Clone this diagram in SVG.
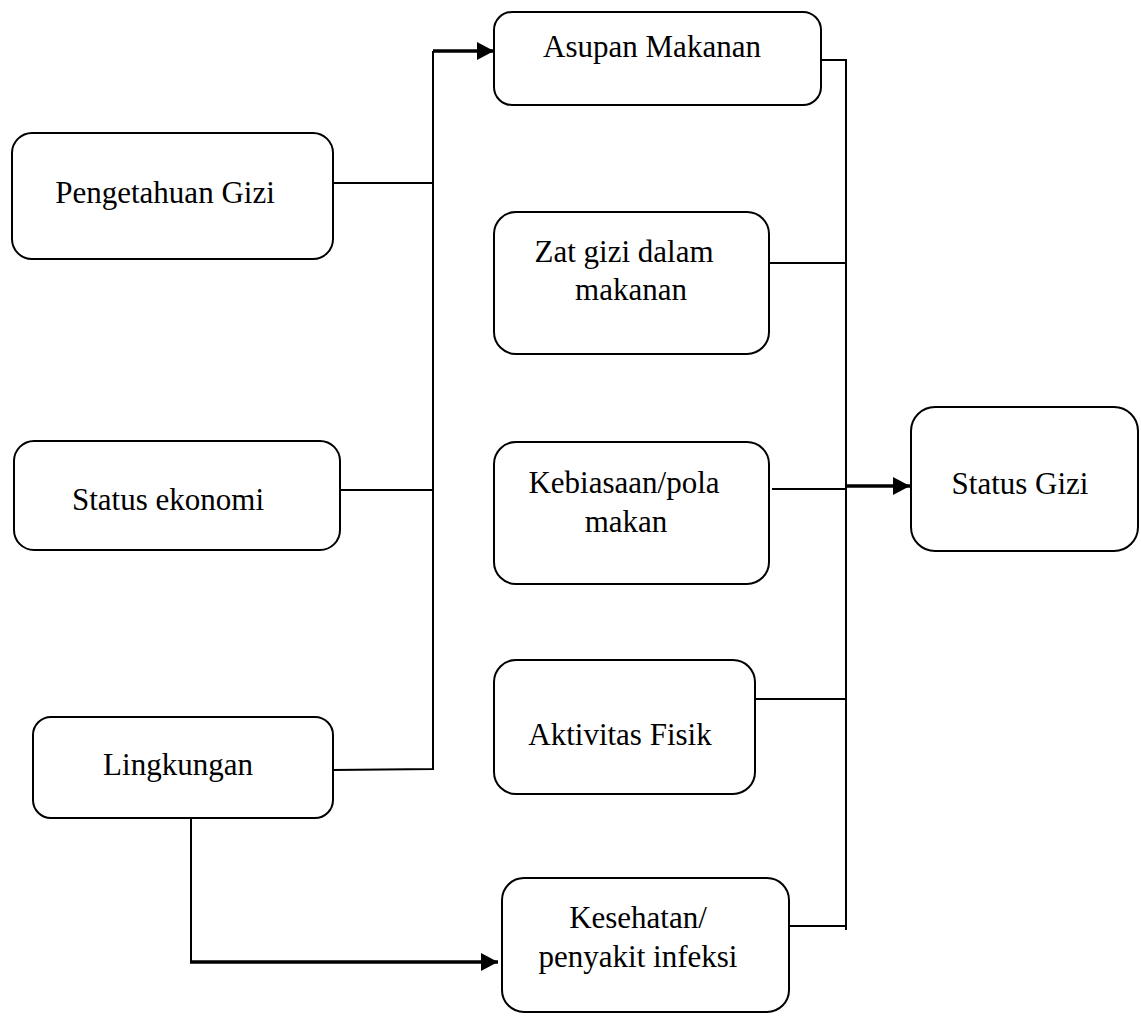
<svg xmlns="http://www.w3.org/2000/svg" width="1141" height="1017" viewBox="0 0 1141 1017">
<style>
.box{fill:#fff;stroke:#000;stroke-width:2}
.t{font-family:"Liberation Serif","Times New Roman",serif;font-size:31px;fill:#000;text-anchor:middle}
.ln{fill:none;stroke:#000;stroke-width:2}
.th{fill:none;stroke:#000;stroke-width:3.5}
</style>
<defs>
<marker id="ah" markerUnits="userSpaceOnUse" markerWidth="18" markerHeight="18" refX="17" refY="9" orient="auto">
<path d="M0,0 L17,9 L0,18 Z" fill="#000"/>
</marker>
</defs>
<g id="connectors">
<polyline class="ln" points="333,183 433,183"/>
<polyline class="ln" points="340,490 433,490"/>
<polyline class="ln" points="333,770 433,769 433,51"/>
<polyline class="th" points="433,51 494,51" marker-end="url(#ah)"/>
<polyline class="ln" points="821,60 846,60 846,930"/>
<polyline class="ln" points="769,263 846,263"/>
<polyline class="ln" points="772,489 846,489"/>
<polyline class="ln" points="755,699 846,699"/>
<polyline class="ln" points="789,926 846,926"/>
<polyline class="th" points="846,486 910,486" marker-end="url(#ah)"/>
<polyline class="ln" points="191,818 191,962"/>
<polyline class="th" points="190,962 498,962" marker-end="url(#ah)"/>
</g>
<g id="pengetahuan">
<rect class="box" x="12" y="133" width="321" height="126" rx="20"/>
<text class="t" x="165" y="203">Pengetahuan Gizi</text>
</g>
<g id="ekonomi">
<rect class="box" x="14" y="441" width="326" height="109" rx="20"/>
<text class="t" x="168" y="510">Status ekonomi</text>
</g>
<g id="lingkungan">
<rect class="box" x="33" y="717" width="300" height="101" rx="18"/>
<text class="t" x="178" y="775">Lingkungan</text>
</g>
<g id="asupan">
<rect class="box" x="494" y="12" width="327" height="93" rx="18"/>
<text class="t" x="652" y="57">Asupan Makanan</text>
</g>
<g id="zatgizi">
<rect class="box" x="494" y="212" width="275" height="142" rx="22"/>
<text class="t" x="624" y="262">Zat gizi dalam</text>
<text class="t" x="631" y="300">makanan</text>
</g>
<g id="kebiasaan">
<rect class="box" x="494" y="442" width="275" height="142" rx="22"/>
<text class="t" x="624" y="493">Kebiasaan/pola</text>
<text class="t" x="626" y="532">makan</text>
</g>
<g id="aktivitas">
<rect class="box" x="494" y="660" width="261" height="134" rx="22"/>
<text class="t" x="620" y="745">Aktivitas Fisik</text>
</g>
<g id="kesehatan">
<rect class="box" x="502" y="878" width="287" height="134" rx="22"/>
<text class="t" x="638" y="928">Kesehatan/</text>
<text class="t" x="638" y="967">penyakit infeksi</text>
</g>
<g id="statusgizi">
<rect class="box" x="911" y="407" width="227" height="144" rx="24"/>
<text class="t" x="1020" y="494">Status Gizi</text>
</g>
</svg>
